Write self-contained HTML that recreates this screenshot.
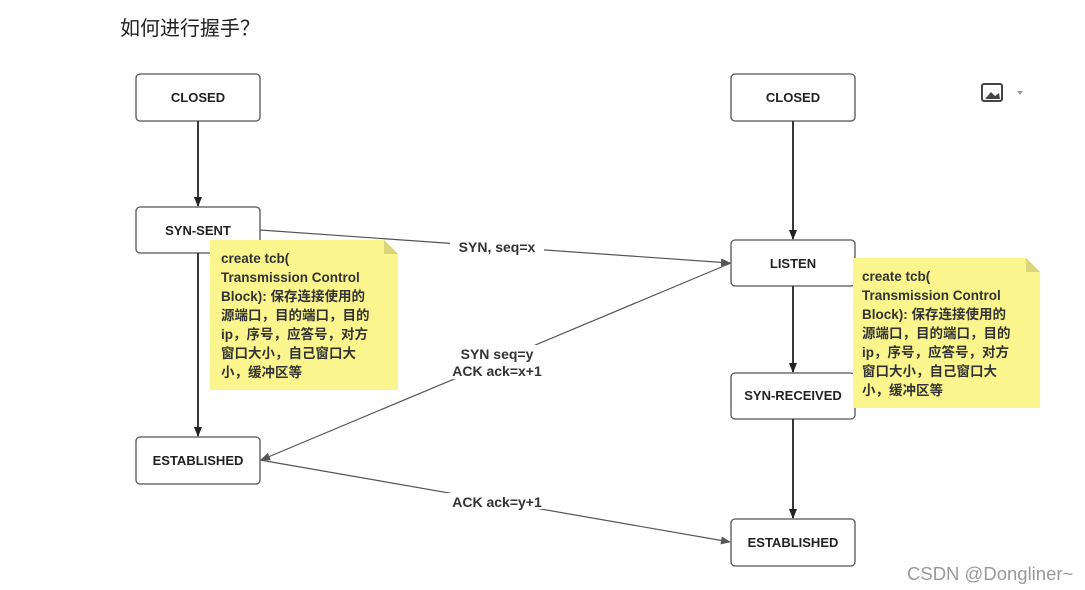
<!DOCTYPE html>
<html><head><meta charset="utf-8"><style>
html,body{margin:0;padding:0;background:#fff;}
body{width:1085px;height:590px;overflow:hidden;position:relative;font-family:"Liberation Sans","Noto Sans CJK SC",sans-serif;}
</style></head><body>
<svg width="1085" height="590" viewBox="0 0 1085 590" xmlns="http://www.w3.org/2000/svg" style="position:absolute;left:0;top:0">
<defs>
<marker id="a" markerWidth="10" markerHeight="10" refX="9" refY="5" orient="auto" markerUnits="userSpaceOnUse"><path d="M0,1 L10,5 L0,9 z" fill="#222"/></marker>
<marker id="b" markerWidth="10" markerHeight="10" refX="9" refY="5" orient="auto" markerUnits="userSpaceOnUse"><path d="M0,1 L10,5 L0,9 z" fill="#555"/></marker>
</defs>
<text x="120" y="35" font-size="20" fill="#222" font-family="Noto Sans CJK SC,sans-serif">如何进行握手？</text>
<g fill="#fff" stroke="#555" stroke-width="1.3">
<rect x="136" y="74" width="124" height="47" rx="4"/>
<rect x="136" y="207" width="124" height="46" rx="4"/>
<rect x="136" y="437" width="124" height="47" rx="4"/>
<rect x="731" y="74" width="124" height="47" rx="4"/>
<rect x="731" y="240" width="124" height="46" rx="4"/>
<rect x="731" y="373" width="124" height="46" rx="4"/>
<rect x="731" y="519" width="124" height="47" rx="4"/>
</g>
<g stroke="#222" stroke-width="1.8" fill="none" marker-end="url(#a)">
<line x1="198" y1="121" x2="198" y2="206"/>
<line x1="198" y1="253" x2="198" y2="436"/>
<line x1="793" y1="121" x2="793" y2="239"/>
<line x1="793" y1="286" x2="793" y2="372"/>
<line x1="793" y1="419" x2="793" y2="518"/>
</g>
<g stroke="#555" stroke-width="1.2" fill="none" marker-end="url(#b)">
<line x1="260" y1="230" x2="730" y2="263"/>
<line x1="731" y1="263" x2="261" y2="460"/>
<line x1="260" y1="460" x2="730" y2="542"/>
</g>
<path d="M210,240 H384 L398,254 V390 H210 Z" fill="#fbf58e"/>
<path d="M384,240 L398,254 H384 Z" fill="#d9d57a"/>
<path d="M853,258 H1026 L1040,272 V408 H853 Z" fill="#fbf58e"/>
<path d="M1026,258 L1040,272 H1026 Z" fill="#d9d57a"/>
<g font-size="13" font-weight="bold" fill="#222" text-anchor="middle">
<text x="198" y="102">CLOSED</text>
<text x="198" y="235">SYN-SENT</text>
<text x="198" y="465">ESTABLISHED</text>
<text x="793" y="102">CLOSED</text>
<text x="793" y="268">LISTEN</text>
<text x="793" y="400">SYN-RECEIVED</text>
<text x="793" y="547">ESTABLISHED</text>
</g>
<g font-size="14" font-weight="bold" fill="#333" text-anchor="middle">
<rect x="450" y="238" width="94" height="16" fill="#fff"/>
<text x="497" y="252">SYN, seq=x</text>
<rect x="443" y="345" width="108" height="34" fill="#fff"/>
<text x="497" y="359">SYN seq=y</text>
<text x="497" y="376">ACK ack=x+1</text>
<rect x="443" y="493" width="108" height="16" fill="#fff"/>
<text x="497" y="507">ACK ack=y+1</text>
</g>
<g font-size="13.5" font-weight="bold" fill="#333">
<text x="221" y="263">create tcb(</text>
<text x="221" y="282">Transmission Control</text>
<text x="221" y="301">Block): 保存连接使用的</text>
<text x="221" y="320">源端口，目的端口，目的</text>
<text x="221" y="339">ip，序号，应答号，对方</text>
<text x="221" y="358">窗口大小，自己窗口大</text>
<text x="221" y="377">小，缓冲区等</text>
<text x="862" y="281">create tcb(</text>
<text x="862" y="300">Transmission Control</text>
<text x="862" y="319">Block): 保存连接使用的</text>
<text x="862" y="338">源端口，目的端口，目的</text>
<text x="862" y="357">ip，序号，应答号，对方</text>
<text x="862" y="376">窗口大小，自己窗口大</text>
<text x="862" y="395">小，缓冲区等</text>
</g>
<rect x="982" y="84" width="20" height="17" rx="2" fill="none" stroke="#444" stroke-width="2"/>
<path d="M985,99 L991,92 L995,96 L999,93 L1000,99 Z" fill="#444"/>
<path d="M1017,91 L1023,91 L1020,95 Z" fill="#999"/>
<text x="907" y="580" font-size="18.5" fill="#999">CSDN @Dongliner~</text>
</svg>
</body></html>
